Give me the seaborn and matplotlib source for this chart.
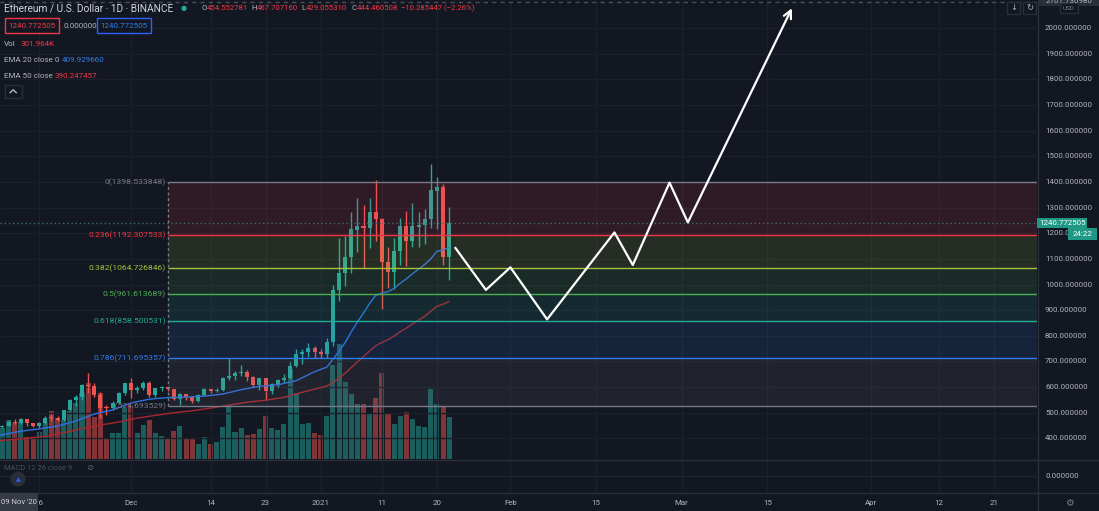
import numpy as np
import pandas as pd
import matplotlib.pyplot as plt
import matplotlib.transforms as mtransforms
from matplotlib.patches import Rectangle, Ellipse
import seaborn as sns

W, H = 1099, 511
BG = '#131722'
UP = '#26a69a'
DOWN = '#ef5350'
TXT = '#b2b5be'

# ETH / USD daily candles, 9 Nov 2020 .. 22 Jan 2021
first_day = '2020-11-09'
opens = [454.6, 444.5, 449.7, 462.7, 462.0, 474.6, 461.6, 448.3, 460.4, 481.0,
         478.9, 471.7, 509.2, 548.2, 560.8, 609.0, 604.5, 569.6, 519.0, 517.5,
         539.4, 575.7, 616.0, 587.3, 598.4, 616.7, 569.6, 596.1, 601.6, 591.8,
         554.7, 573.4, 559.8, 545.7, 568.6, 590.8, 586.5, 589.3, 636.2, 642.5,
         654.5, 659.0, 638.4, 608.2, 634.2, 584.9, 612.0, 626.4, 636.6, 682.5,
         730.4, 735.0, 752.9, 738.6, 730.4, 775.0, 980.0, 1044.0, 1106.0, 1212.0,
         1229.0, 1221.0, 1284.0, 1257.0, 1089.0, 1048.0, 1131.0, 1229.0, 1168.0, 1226.0,
         1233.0, 1255.0, 1366.0, 1379.0, 1109.0]
highs = [467.7, 453.0, 471.0, 474.0, 478.0, 475.0, 462.0, 465.0, 486.0, 495.0,
         486.0, 512.0, 553.0, 570.0, 614.0, 655.0, 615.0, 580.0, 530.0, 545.0,
         582.0, 617.0, 636.0, 603.0, 625.0, 623.0, 598.0, 604.0, 605.0, 594.0,
         577.0, 575.0, 560.0, 573.0, 597.0, 592.0, 596.0, 640.0, 715.0, 661.0,
         686.0, 667.0, 644.0, 637.0, 637.0, 615.0, 630.0, 650.0, 697.0, 748.0,
         750.0, 770.0, 760.0, 749.0, 790.0, 1000.0, 1180.0, 1190.0, 1284.0, 1336.0,
         1310.0, 1336.0, 1408.0, 1260.0, 1146.0, 1183.0, 1260.0, 1286.0, 1316.0, 1284.0,
         1294.0, 1471.0, 1421.0, 1392.0, 1303.0]
lows = [429.1, 439.0, 448.0, 456.0, 455.0, 450.0, 443.0, 442.0, 455.0, 466.0,
        467.0, 468.0, 505.0, 525.0, 548.0, 577.0, 563.0, 480.0, 492.0, 510.0,
        537.0, 570.0, 558.0, 577.0, 590.0, 563.0, 560.0, 586.0, 585.0, 550.0,
        530.0, 549.0, 538.0, 543.0, 565.0, 578.0, 580.0, 585.0, 628.0, 626.0,
        643.0, 625.0, 599.0, 587.0, 550.0, 572.0, 600.0, 616.0, 632.0, 677.0,
        692.0, 717.0, 715.0, 714.0, 715.0, 760.0, 935.0, 995.0, 1046.0, 1128.0,
        1063.0, 1141.0, 1170.0, 905.0, 985.0, 981.0, 1076.0, 1072.0, 1146.0, 1146.0,
        1157.0, 1222.0, 1215.0, 1076.0, 1018.0]
closes = [444.5, 449.7, 462.7, 462.0, 474.6, 461.6, 448.3, 460.4, 481.0, 478.9,
          471.7, 509.2, 548.2, 560.8, 609.0, 604.5, 569.6, 519.0, 517.5, 539.4,
          575.7, 616.0, 587.3, 598.4, 616.7, 569.6, 596.1, 601.6, 591.8, 554.7,
          573.4, 559.8, 545.7, 568.6, 590.8, 586.5, 589.3, 636.2, 642.5, 654.5,
          659.0, 638.4, 608.2, 634.2, 584.9, 612.0, 626.4, 636.6, 682.5, 730.4,
          735.0, 752.9, 738.6, 730.4, 775.0, 980.0, 1044.0, 1106.0, 1215.0, 1229.0,
          1221.0, 1284.0, 1255.0, 1088.0, 1048.0, 1131.0, 1229.0, 1168.0, 1227.0, 1233.0,
          1255.0, 1368.0, 1379.0, 1109.0, 1240.8]
volumes_k = [302, 302, 380, 351, 360, 214, 214, 263, 360, 468,
             399, 380, 468, 545, 643, 740, 409, 643, 195, 253,
             253, 497, 526, 253, 331, 380, 253, 224, 195, 273,
             321, 195, 195, 146, 214, 146, 166, 312, 526, 263,
             302, 234, 244, 292, 419, 302, 282, 341, 877, 643,
             341, 351, 253, 234, 419, 916, 1120, 750, 633, 536,
             536, 448, 594, 838, 438, 341, 419, 458, 390, 321,
             312, 682, 536, 516, 409]

ema20_dates = ['2020-11-09', '2020-11-13', '2020-11-16', '2020-11-19', '2020-11-22', '2020-11-25',
               '2020-11-28', '2020-12-01', '2020-12-04', '2020-12-07', '2020-12-10', '2020-12-13',
               '2020-12-16', '2020-12-19', '2020-12-22', '2020-12-25', '2020-12-28', '2020-12-31',
               '2021-01-02', '2021-01-03', '2021-01-04', '2021-01-05', '2021-01-06', '2021-01-07',
               '2021-01-08', '2021-01-09', '2021-01-10', '2021-01-11', '2021-01-12', '2021-01-13',
               '2021-01-14', '2021-01-15', '2021-01-16', '2021-01-17', '2021-01-18', '2021-01-19',
               '2021-01-20', '2021-01-21', '2021-01-22']
ema20 = [409.9, 428, 437, 448, 468, 495, 511, 538, 553, 559, 561, 565, 573, 590, 603, 609, 625, 660,
         678, 708, 740, 774, 815, 854, 889, 926, 958, 966, 972, 985, 1005, 1022, 1042, 1060, 1078,
         1100, 1130, 1134, 1145]
ema50_dates = ['2020-11-09', '2020-11-13', '2020-11-17', '2020-11-20', '2020-11-23', '2020-11-26',
               '2020-11-29', '2020-12-02', '2020-12-05', '2020-12-08', '2020-12-11', '2020-12-14',
               '2020-12-17', '2020-12-20', '2020-12-23', '2020-12-26', '2020-12-29', '2021-01-01',
               '2021-01-02', '2021-01-03', '2021-01-04', '2021-01-05', '2021-01-06', '2021-01-07',
               '2021-01-08', '2021-01-09', '2021-01-10', '2021-01-11', '2021-01-12', '2021-01-13',
               '2021-01-14', '2021-01-15', '2021-01-16', '2021-01-17', '2021-01-18', '2021-01-19',
               '2021-01-20', '2021-01-21', '2021-01-22']
ema50 = [390.2, 398, 408, 422, 438, 452, 464, 479, 490, 500, 508, 518, 530, 541, 549, 560, 580, 598,
         604, 618, 635, 654, 676, 698, 719, 741, 761, 774, 785, 799, 816, 830, 846, 861, 876,
         896, 915, 923, 934]

# fibonacci retracement
fib_labels = ['0', '0.236', '0.382', '0.5', '0.618', '0.786', '1']
fib_prices = [1398.533848, 1192.307533, 1064.726846, 961.613689, 858.500531, 711.695357, 524.693529]
fib_colors = ['#787b86', '#f23645', '#a5c33c', '#4caf50', '#22ab94', '#2f7ee8', '#787b86']
fib_start = '2020-12-07'

# hand drawn projection
path_dates = ['2021-01-23', '2021-01-28', '2021-02-01', '2021-02-07', '2021-02-18',
              '2021-02-21', '2021-02-27', '2021-03-02', '2021-03-17', '2021-03-19']
path_prices = [1143, 979, 1067, 864, 1203, 1076, 1397, 1242, 1979, 2077]

price_ticks = list(range(400, 2001, 100))
tick_dates = ['2020-11-16', '2020-12-01', '2020-12-14', '2020-12-23', '2021-01-01', '2021-01-11',
              '2021-01-20', '2021-02-01', '2021-02-15', '2021-03-01', '2021-03-15', '2021-04-01',
              '2021-04-12', '2021-04-21']
tick_labels = ['16', 'Dec', '14', '23', '2021', '11', '20', 'Feb', '15', 'Mar', '15', 'Apr', '12', '21']
last_price = 1240.772505
target_price = 2101.7


def days(ds):
    return np.asarray((pd.to_datetime(ds) - pd.Timestamp(first_day)).days, dtype=float)


sns.set_style('dark', {'axes.facecolor': BG, 'figure.facecolor': BG})
plt.rcParams['font.family'] = ['Roboto', 'DejaVu Sans']

fig = plt.figure(figsize=(W / 100, H / 100), dpi=100, facecolor=BG)
rect = [0, 52 / H, 1037 / W, 459 / H]
vol_ax = fig.add_axes(rect, facecolor=BG)
ax = fig.add_axes(rect, sharex=vol_ax)
ax.patch.set_alpha(0)
macd_ax = fig.add_axes([0, 19 / H, 1037 / W, 32 / H], facecolor=BG)
for a in (vol_ax, ax, macd_ax):
    for s in a.spines.values():
        s.set_visible(False)
    a.set_xticks([])
    a.set_yticks([])

xmin, xmax = 0.6, 170.05
vol_ax.set_xlim(xmin, xmax)
vol_ax.set_ylim(0, 4470)
ax.set_ylim(319.7, 2109.2)
macd_ax.set_xlim(xmin, xmax)
macd_ax.set_ylim(-1, 1)

# grid
grid_c = '#1c202b'
tx = days(tick_dates)
for a in (ax, macd_ax):
    a.vlines(tx, *a.get_ylim(), colors=grid_c, lw=1, zorder=0)
ax.hlines(price_ticks, xmin, xmax, colors=grid_c, lw=1, zorder=0)
macd_ax.axhline(0, color='#1f2330', lw=1)

o, h, l, c = map(np.array, (opens, highs, lows, closes))
x = np.arange(len(o))
col = np.where(c >= o, UP, DOWN)

vol_ax.bar(x, volumes_k, width=0.82, color=col, alpha=0.5, lw=0)

ax.vlines(x, l, h, colors=col, lw=1, zorder=3)
ax.bar(x, np.maximum(np.abs(c - o), 3), bottom=np.minimum(o, c), width=0.66,
       color=col, lw=0, zorder=4)

sns.lineplot(x=days(ema20_dates), y=ema20, ax=ax, color='#2f6fe0', lw=1, zorder=5)
sns.lineplot(x=days(ema50_dates), y=ema50, ax=ax, color='#a8262f', lw=1, zorder=5)

# fib bands
x0 = days([fib_start])[0]
for i in range(len(fib_prices) - 1):
    ax.fill_between([x0, xmax], fib_prices[i + 1], fib_prices[i], color=fib_colors[i + 1],
                    alpha=0.13, lw=0, zorder=6)
ax.hlines(fib_prices, x0, xmax, colors=fib_colors, lw=1, zorder=7)
ax.vlines(x0, fib_prices[-1], fib_prices[0], colors='#787b86', lw=1, ls=(0, (2, 2)), zorder=7)

ax.axhline(last_price, color='#3f6e6a', lw=1, ls=(0, (1, 2)), zorder=7)
ax.axhline(target_price, color='#4a4e59', lw=1, ls=(0, (3, 3)), zorder=7)

px_, py_ = days(path_dates), np.array(path_prices, dtype=float)
sns.lineplot(x=px_[:-1], y=py_[:-1], ax=ax, color='white', lw=1.6, sort=False, zorder=9)
ax.annotate('', xy=(px_[-1], py_[-1]), xytext=(px_[-2], py_[-2]),
            arrowprops=dict(arrowstyle='->', color='white', lw=1.6, mutation_scale=14,
                            shrinkA=0, shrinkB=0), zorder=9)
ax.set_xlabel('')
ax.set_ylabel('')

# ---- text / chrome ----
fp = fig.transFigure
y_blend = mtransforms.blended_transform_factory(fp, ax.transData)
x_blend = mtransforms.blended_transform_factory(ax.transData, fp)


def ftext(xp, yp, s, **kw):
    kw.setdefault('va', 'center')
    kw.setdefault('fontsize', 6)
    kw.setdefault('zorder', 10)
    return fig.text(xp / W, 1 - yp / H, s, **kw)


def fbox(xp, yp, w, hh, fc, ec='none', lw=1, z=8):
    fig.add_artist(Rectangle((xp / W, 1 - (yp + hh) / H), w / W, hh / H, transform=fp,
                             fc=fc, ec=ec, lw=lw, zorder=z))


def fline(xs, ys, color='#2a2e39', lw=1, z=7):
    fig.add_artist(plt.Line2D([v / W for v in xs], [1 - v / H for v in ys], transform=fp,
                              color=color, lw=lw, zorder=z))


fline([1037.5, 1037.5], [0, 511])
fline([0, 1099], [459.5, 459.5])
fline([0, 1099], [492.5, 492.5])

# header
ftext(4, 8.5, 'Ethereum / U.S. Dollar · 1D · BINANCE', color='#d1d4dc', fontsize=7.3)
ftext(184, 8.5, '●', color=UP, fontsize=5, ha='center')
red = '#f23645'
for xp, s, cc in [(201, 'O', TXT), (206.5, '454.552781', red), (251, 'H', TXT), (256.5, '467.707160', red),
                  (301.5, 'L', TXT), (306, '429.055310', red), (351, 'C', TXT), (356.5, '444.460508', red),
                  (401, '−10.285447 (−2.26%)', red)]:
    ftext(xp, 8.5, s, color=cc, fontsize=5.6)

fbox(4.5, 18.5, 54, 15, BG, ec=red)
ftext(31.5, 26, '1240.772505', color=red, ha='center', fontsize=5.8)
ftext(63, 26, '0.000000', color=TXT, fontsize=5.8)
fbox(96.5, 18.5, 54, 15, BG, ec='#2962ff')
ftext(123.5, 26, '1240.772505', color='#2f7ee8', ha='center', fontsize=5.8)
ftext(4, 44, 'Vol', color=TXT, fontsize=5.8)
ftext(20.5, 44, '301.964K', color=red, fontsize=5.8)
ftext(4, 60.5, 'EMA 20 close 0', color=TXT, fontsize=5.8)
ftext(62, 60.5, '409.929660', color='#2f7ee8', fontsize=5.8)
ftext(4, 76, 'EMA 50 close', color=TXT, fontsize=5.8)
ftext(55, 76, '390.247457', color=red, fontsize=5.8)
fbox(4.5, 85, 17.5, 13, BG, ec='#2a2e39')
fline([10, 13.2, 16.4], [92.8, 89.8, 92.8], color=TXT, z=10)

# fib labels
for lab, p, cc in zip(fib_labels, fib_prices, fib_colors):
    fig.text(166 / W, p, f'{lab}({p:.6f})', transform=y_blend, color=cc, fontsize=6.1,
             ha='right', va='center', zorder=10)

# price axis
for p in price_ticks:
    fig.text(1045 / W, p, f'{p}.000000', transform=y_blend, color=TXT, fontsize=5.7,
             va='center', zorder=10)
fig.text(1039 / W, last_price, '1240.772505', transform=y_blend, color='white', fontsize=5.7,
         va='center', zorder=10,
         bbox=dict(boxstyle='square,pad=0.25', fc='#1f9985', ec='none'))
fbox(1068, 228, 29, 12, '#1f9985', z=11)
ftext(1082.5, 234, '24:22', color='white', fontsize=5.7, ha='center', zorder=12)
fbox(1039, -6, 60, 12, '#2a2e39', z=9)
ftext(1069, 1, '2101.730980', color=TXT, fontsize=5.7, ha='center')
fbox(1060, 3.5, 18, 10, BG, ec='#2a2e39', z=9)
ftext(1069, 8.5, 'USD', color='#787b86', fontsize=4.6, ha='center')
fbox(1007, 2, 13, 12, BG, ec='#2a2e39', z=9)
ftext(1013.5, 8, '↓', color=TXT, fontsize=6, ha='center')
fbox(1023, 2, 13, 12, BG, ec='#2a2e39', z=9)
ftext(1029.5, 8, '↻', color=TXT, fontsize=6, ha='center')

# macd pane
ftext(4, 468, 'MACD 12 26 close 9', color='#4a4e59', fontsize=5.4)
ftext(86, 468, '⊘', color='#5d606b', fontsize=6)
fig.add_artist(Ellipse((18 / W, 1 - 479 / H), 15 / W, 15 / H, transform=fp,
                       fc='#2a2e39', ec='none', zorder=9))
ftext(18, 479.5, '▲', color='#2962ff', fontsize=4.5, ha='center')
ftext(1045, 476, '0.000000', color=TXT, fontsize=5.7)

# date axis
for d, lab in zip(tx, tick_labels):
    fig.text(d, 1 - 503 / H, lab, transform=x_blend, color=TXT, fontsize=5.7,
             ha='center', va='center', zorder=10)
fbox(0, 493, 38, 18, '#363a45', z=11)
ftext(19, 502, "09 Nov '20", color='#d1d4dc', fontsize=5.5, ha='center', zorder=12)
ftext(1069, 503, '⚙', color='#787b86', fontsize=7, ha='center')

fig.savefig('out.png', dpi=100, facecolor=BG)
